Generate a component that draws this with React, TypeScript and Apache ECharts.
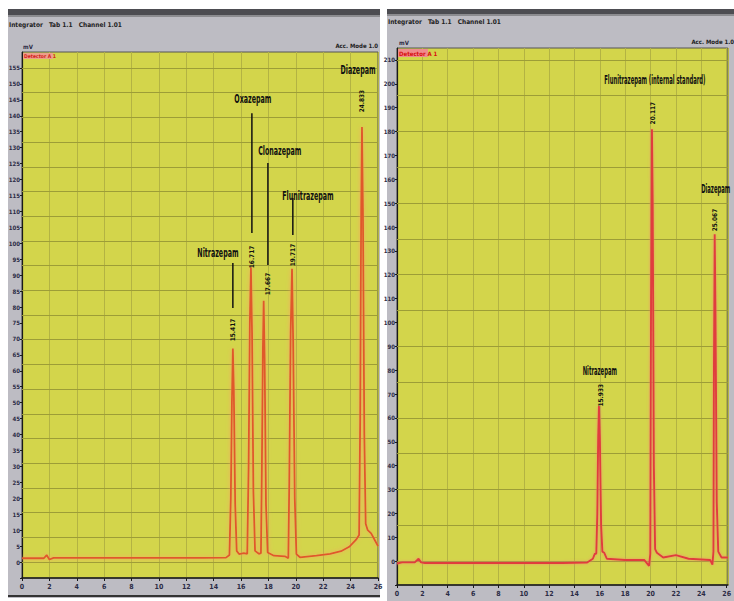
import React, { useEffect, useRef } from 'react';
import * as echarts from 'echarts';

// ---- Left chromatogram (time in min, signal in mV) ----
const leftTrace: [number, number][] = [
  [0, 1.2], [1.6, 1.2], [1.8, 2.2], [2.0, 0.8], [2.3, 1.3], [8, 1.3], [13, 1.3], [14.9, 1.4], [15.15, 2.2],
  [15.25, 20], [15.33, 50], [15.4, 67], [15.47, 54], [15.57, 18], [15.68, 3.5], [15.85, 2.5], [16.2, 2.8], [16.45, 2.6],
  [16.55, 30], [16.64, 75], [16.72, 92.5], [16.8, 72], [16.9, 22], [17.02, 3.5], [17.3, 2.6], [17.45, 2.8],
  [17.52, 30], [17.59, 66], [17.65, 82], [17.72, 64], [17.82, 18], [17.94, 3], [18.4, 2.0], [19.2, 1.8], [19.45, 1.2],
  [19.52, 25], [19.62, 72], [19.72, 92], [19.8, 70], [19.92, 20], [20.04, 2.5], [20.3, 1.5], [21.5, 2.0], [22.5, 2.6],
  [23.3, 3.4], [23.9, 4.8], [24.4, 7], [24.62, 8.5],
  [24.7, 45], [24.77, 110], [24.83, 136.5], [24.9, 110], [25.0, 40], [25.1, 12], [25.25, 10], [25.5, 9], [25.75, 7], [26, 5],
];
const leftPeakNames = ['Nitrazepam', 'Oxazepam', 'Clonazepam', 'Flunitrazepam', 'Diazepam'];
const leftPeakTimes = [15.417, 16.717, 17.667, 19.717, 24.833];
const leftNameAnchors: [number, number][] = [[14.31, 97.2], [16.86, 145.5], [18.83, 129.2], [20.88, 115.1], [24.54, 154.6]];
const leftRtAnchors: [number, number][] = [[15.4, 72.8], [16.79, 95.7], [17.96, 87.2], [19.78, 96.3], [24.83, 144.6]];
const leftLeaders: ([number, number, number] | null)[] = [[15.4, 93.8, 79.7], [16.79, 140.8, 103.2], [17.96, 125.2, 93.2], [19.78, 114.2, 102.6], null];
const leftXTicks = { min: 0, max: 26, step: 2 };
const leftYTicks = { min: -5, max: 160, step: 5 };
const leftGridStep = 7.75;

// ---- Right chromatogram ----
const rightTrace: [number, number][] = [
  [0, -1], [0.4, -0.5], [1.4, -0.5], [1.7, 1], [1.9, -0.5], [2.2, -0.8], [8, -0.8], [13, -0.8], [15.0, -0.6],
  [15.45, 1.0], [15.6, 3], [15.72, 3.2],
  [15.8, 20], [15.87, 52], [15.93, 65], [16.0, 52], [16.1, 15], [16.2, 4], [16.35, 3.5], [16.55, 1], [18.0, 0.5], [19.5, 0.5], [19.88, -2],
  [19.98, 3], [20.04, 110], [20.11, 181], [20.17, 150], [20.26, 40], [20.36, 5], [20.5, 3.5], [21.0, 1.5], [22.0, 2.5], [23.0, 1.0],
  [24.7, 0.5], [24.88, -1.5],
  [24.96, 4], [25.0, 80], [25.06, 137], [25.12, 105], [25.22, 25], [25.34, 4], [25.6, 1.5], [26.1, 1.5],
];
const rightPeakNames = ['Nitrazepam', 'Flunitrazepam (internal standard)', 'Diazepam'];
const rightPeakTimes = [15.933, 20.117, 25.067];
const rightNameAnchors: [number, number][] = [[16.0, 80], [20.34, 201.9], [25.14, 156.3]];
const rightRtAnchors: [number, number][] = [[16.06, 69.5], [20.2, 187.7], [25.12, 142.9]];
const rightXTicks = { min: 0, max: 26.1, step: 2 };
const rightYTicks = { min: -10, max: 215, step: 10 };
const rightGridStep = 15;

const YELLOW = '#d3d54b';
const NARROW = "'Liberation Sans Narrow', 'DejaVu Sans Condensed', 'Liberation Sans', sans-serif";

function gridValues(step: number, top: number): number[] {
  const out: number[] = [];
  for (let v = 0; v <= top; v += step) out.push(+v.toFixed(2));
  return out;
}

export default function App() {
  const ref = useRef<HTMLDivElement>(null);
  useEffect(() => {
    if (!ref.current) return;
    const chart = echarts.init(ref.current, undefined, { renderer: 'svg' });

    const xAxisCommon = (t: { min: number; max: number; step: number }, gi: number) => ({
      type: 'value' as const,
      gridIndex: gi,
      min: t.min,
      max: t.max,
      interval: t.step,
      axisLine: { show: true, onZero: false, lineStyle: { color: '#1a1a1a', width: 1.5 } },
      axisTick: { show: true, length: 3, lineStyle: { color: '#1a1a1a' } },
      axisLabel: { fontSize: 7, fontWeight: 'bold' as const, color: '#2b2b45', margin: 5, fontFamily: NARROW, showMaxLabel: gi === 0 },
      splitLine: { show: true, lineStyle: { color: '#b3b343', width: 1 } },
    });
    const yAxisCommon = (t: { min: number; max: number; step: number }, gi: number) => ({
      type: 'value' as const,
      gridIndex: gi,
      min: t.min,
      max: t.max,
      interval: t.step,
      axisLine: { show: true, onZero: false, lineStyle: { color: '#1a1a1a', width: 1.2 } },
      axisTick: { show: true, length: 2, lineStyle: { color: '#1a1a1a' } },
      axisLabel: {
        fontSize: 6, fontWeight: 'bold' as const, color: '#2b2b45', margin: 2, fontFamily: NARROW,
        showMaxLabel: false,
        formatter: (v: number) => (v < 0 ? '' : String(v)),
      },
      splitLine: { show: false },
    });

    const gridLineSeries = (gi: number, trace: [number, number][], values: number[]) => ({
      type: 'line' as const,
      xAxisIndex: gi,
      yAxisIndex: gi,
      data: trace,
      showSymbol: false,
      silent: true,
      z: 1,
      lineStyle: { opacity: 0 },
      markLine: {
        silent: true,
        symbol: ['none', 'none'],
        label: { show: false },
        lineStyle: { color: '#9d9d37', width: 1, type: 'solid' as const },
        data: values.map((v) => ({ yAxis: v })),
      },
    });

    chart.setOption({
      animation: false,
      grid: [
        { left: 22, top: 52, width: 356, height: 526, show: true, backgroundColor: YELLOW, borderColor: '#555', borderWidth: 1 },
        { left: 397, top: 48, right: 0, height: 537, show: true, backgroundColor: YELLOW, borderColor: '#555', borderWidth: 1 },
      ],
      xAxis: [xAxisCommon(leftXTicks, 0), xAxisCommon(rightXTicks, 1)],
      yAxis: [yAxisCommon(leftYTicks, 0), yAxisCommon(rightYTicks, 1)],
      series: [
        {
          type: 'line', xAxisIndex: 0, yAxisIndex: 0, data: leftTrace, showSymbol: false, z: 5,
          lineStyle: { color: '#e0582a', width: 1.8, shadowColor: 'rgba(250,160,100,0.9)', shadowBlur: 4 },
        },
        {
          type: 'line', xAxisIndex: 1, yAxisIndex: 1, data: rightTrace, showSymbol: false, z: 5,
          lineStyle: { color: '#e03c3c', width: 1.9, shadowColor: 'rgba(245,130,110,0.8)', shadowBlur: 3 },
        },
        gridLineSeries(0, leftTrace, gridValues(leftGridStep, 158)),
        gridLineSeries(1, rightTrace, gridValues(rightGridStep, 212)),
      ],
    });

    const px = (si: number, p: [number, number]) => chart.convertToPixel({ seriesIndex: si }, p) as number[];

    const nameText = (x: number, y: number, text: string, sx: number) => ({
      type: 'text', x, y, scaleX: sx, z: 50,
      style: { text, fill: '#111', fontFamily: NARROW, fontSize: 13, fontWeight: 'bold', align: 'center', verticalAlign: 'middle', textAlign: 'center', textVerticalAlign: 'middle' },
    });
    const rtText = (x: number, y: number, text: string) => ({
      type: 'text', x, y, rotation: Math.PI / 2, z: 50,
      style: { text, fill: '#111', fontFamily: NARROW, fontSize: 6.5, fontWeight: 'bold', align: 'center', verticalAlign: 'middle', textAlign: 'center', textVerticalAlign: 'middle' },
    });

    const ann: any[] = [];
    leftPeakNames.forEach((n, i) => {
      const a = px(0, leftNameAnchors[i]);
      ann.push(nameText(a[0], a[1], n, 0.54));
      const r = px(0, leftRtAnchors[i]);
      ann.push(rtText(r[0], r[1], leftPeakTimes[i].toFixed(3)));
      const l = leftLeaders[i];
      if (l) {
        const p1 = px(0, [l[0], l[1]]);
        const p2 = px(0, [l[0], l[2]]);
        ann.push({ type: 'line', z: 50, shape: { x1: p1[0], y1: p1[1], x2: p2[0], y2: p2[1] }, style: { stroke: '#111', lineWidth: 1.5 } });
      }
    });
    rightPeakNames.forEach((n, i) => {
      const a = px(1, rightNameAnchors[i]);
      ann.push(nameText(a[0], a[1], n, 0.45));
      const r = px(1, rightRtAnchors[i]);
      ann.push(rtText(r[0], r[1], rightPeakTimes[i].toFixed(3)));
    });

    const smallText = (x: number, y: number, text: string, align: string, fill = '#222', size = 6) => ({
      type: 'text', x, y, z: 60,
      style: { text, fill, fontFamily: NARROW, fontSize: size, fontWeight: 'bold', align, verticalAlign: 'middle', textAlign: align, textVerticalAlign: 'middle' },
    });

    const chrome: any[] = [
      // panels
      { type: 'rect', z: -100, shape: { x: 8, y: 9, width: 372, height: 589 }, style: { fill: '#bdbcc3' } },
      { type: 'rect', z: -99, shape: { x: 8, y: 9, width: 372, height: 6 }, style: { fill: '#4d4d52' } },
      { type: 'rect', z: -99, shape: { x: 8, y: 15, width: 372, height: 2 }, style: { fill: '#8c8c90' } },
      { type: 'rect', z: -99, shape: { x: 8, y: 595, width: 372, height: 2 }, style: { fill: '#333' } },
      { type: 'rect', z: -100, shape: { x: 387, y: 9, width: 347, height: 592 }, style: { fill: '#bdbcc3' } },
      { type: 'rect', z: -99, shape: { x: 387, y: 9, width: 347, height: 5 }, style: { fill: '#4d4d52' } },
      { type: 'rect', z: -99, shape: { x: 387, y: 14, width: 347, height: 2 }, style: { fill: '#8c8c90' } },
      // header texts
      smallText(9, 25, 'Integrator   Tab 1.1   Channel 1.01', 'left', '#222', 6.5),
      smallText(388, 22, 'Integrator   Tab 1.1   Channel 1.01', 'left', '#222', 6.5),
      smallText(23, 46, 'mV', 'left', '#2b2b45', 6),
      smallText(399, 42, 'mV', 'left', '#2b2b45', 6),
      smallText(378, 45, 'Acc. Mode 1.0', 'right', '#222', 6),
      smallText(734, 41, 'Acc. Mode 1.0', 'right', '#222', 6),
      // channel tags
      { type: 'rect', z: 45, shape: { x: 23, y: 53, width: 30, height: 6 }, style: { fill: '#eda08a' } },
      smallText(24, 56, 'Detector A 1', 'left', '#d42020', 5),
      { type: 'rect', z: 45, shape: { x: 398, y: 49, width: 30, height: 8 }, style: { fill: '#f08c8c' } },
      smallText(399, 53, 'Detector A 1', 'left', '#d81010', 6),
    ];

    chart.setOption({ graphic: { elements: [...chrome, ...ann] } });

    return () => chart.dispose();
  }, []);

  return <div ref={ref} style={{ position: 'fixed', left: 0, top: 0, width: 734, height: 601, background: '#fff' }} />;
}
